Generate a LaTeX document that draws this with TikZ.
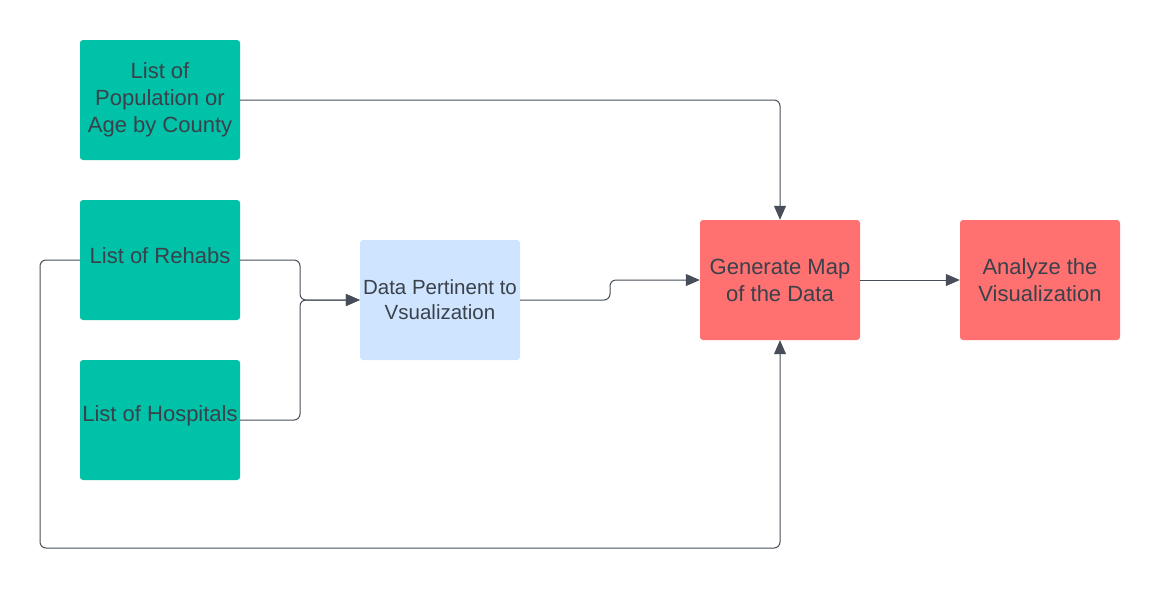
\documentclass[tikz,border=0pt]{standalone}
\usepackage{fontspec}
\setmainfont{Liberation Sans}
\usetikzlibrary{arrows.meta}
\definecolor{teal1}{HTML}{00C2A8}
\definecolor{blue1}{HTML}{CFE4FF}
\definecolor{red1}{HTML}{FF7070}
\definecolor{txt}{HTML}{3A414A}
\definecolor{ln}{HTML}{474E59}
\begin{document}
\begin{tikzpicture}[x=1pt,y=-1pt,
  box/.style={minimum width=160pt,minimum height=120pt,rounded corners=3pt,align=center,text=txt,inner sep=0pt,font=\fontsize{22}{27}\selectfont},
  tbox/.style={box,fill=teal1},
  bbox/.style={box,fill=blue1,font=\fontsize{20.5}{25}\selectfont},
  rbox/.style={box,fill=red1},
  conn/.style={draw=ln,line width=1pt,rounded corners=6pt},
  arr/.style={conn,-{Triangle[length=14pt,width=12pt]}}]
\useasboundingbox (0,0) rectangle (1160,590);
\node[tbox] (pop) at (160,100) {List of\\Population or\\Age by County};
\node[tbox] (reh) at (160,260) {\raisebox{4pt}[\height][\depth]{List of Rehabs}};
\node[tbox] (hos) at (160,420) {\raisebox{4pt}[\height][\depth]{List of Hospitals}};
\node[bbox] (dat) at (440,300) {Data Pertinent to\\Vsualization};
\node[rbox] (gen) at (780,280) {Generate Map\\of the Data};
\node[rbox] (ana) at (1040,280) {Analyze the\\Visualization};
\coordinate (c1) at (780,100);
\coordinate (c2) at (300,300);
\coordinate (c3) at (40,548);
\coordinate (c4) at (780,548);
\coordinate (c5) at (610,300);
\coordinate (c6) at (610,280);
\draw[arr] (pop.east) -- (c1) -- (gen.north);
\draw[arr] (reh.east) -| (c2) -- (dat.west);
\draw[arr] (hos.east) -| (c2) -- (dat.west);
\draw[arr] (reh.west) -| (c3) -- (c4) -- (gen.south);
\draw[arr] (dat.east) -- (c5) -- (c6) -- (gen.west);
\draw[arr] (gen.east) -- (ana.west);
\end{tikzpicture}
\end{document}
